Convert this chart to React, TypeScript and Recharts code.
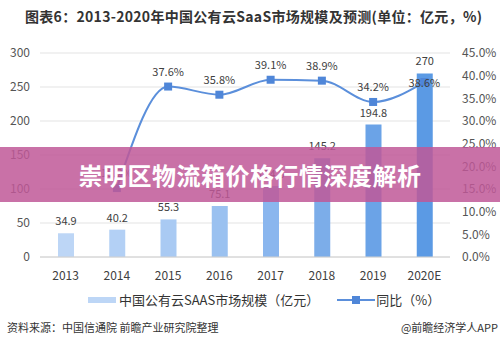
import { Bar, Cell, ComposedChart, CartesianGrid, LabelList, Line, XAxis, YAxis } from "recharts";

const years = ["2013", "2014", "2015", "2016", "2017", "2018", "2019", "2020E"];
const marketSize = [34.9, 40.2, 55.3, 75.1, 104.5, 145.2, 194.8, 270];
const growth: (number | null)[] = [null, 15.2, 37.6, 35.8, 39.1, 38.9, 34.2, 38.6];
const barColors = ["#bdd6f6", "#b3d0f5", "#a9caf3", "#9ac1f0", "#8ab6ee", "#7cade9", "#6ba3e7", "#5b9ae4"];
const leftTicks = [0, 50, 100, 150, 200, 250, 300];
const rightTicks = [0, 5, 10, 15, 20, 25, 30, 35, 40, 45];

const data = years.map((year, i) => ({ year, size: marketSize[i], yoy: growth[i] }));

const font = '"Noto Sans CJK SC", "Noto Sans", sans-serif';

function GrowthLabel(props: any) {
  const { x, y, value, index } = props;
  if (value == null) return null;
  const last = index === years.length - 1;
  return (
    <text x={x} y={last ? y + 5 : y - 11} textAnchor="middle" fontSize={11} fill="#404040" fontFamily={font}>
      {value.toFixed(1)}%
    </text>
  );
}

function Square(props: any) {
  const { cx, cy, payload } = props;
  if (payload.yoy == null || cx == null || cy == null) return <g />;
  return <rect x={cx - 4} y={cy - 4} width={8} height={8} fill="#4f86d8" />;
}

export default function App() {
  return (
    <div style={{ position: "fixed", left: 0, top: 0, width: 500, height: 350, background: "#fff", fontFamily: font, overflow: "hidden" }}>
      <div style={{ position: "absolute", left: 25, top: 6, fontSize: 14, fontWeight: 700, color: "#333", whiteSpace: "nowrap", letterSpacing: 0.3 }}>
        图表6：2013-2020年中国公有云SaaS市场规模及预测(单位：亿元，%)
      </div>
      <div style={{ position: "absolute", left: 0, top: 0 }}>
        <ComposedChart width={500} height={290} data={data} margin={{ top: 53, right: 0, bottom: 3, left: 0 }} barSize={16}>
          <CartesianGrid stroke="#e3e3e3" vertical={false} yAxisId="left" />
          <XAxis dataKey="year" tickLine={false} axisLine={{ stroke: "#d0d0d0" }} tick={{ fontSize: 12, fill: "#404040", fontFamily: font }} height={30} tickMargin={8} />
          <YAxis yAxisId="left" domain={[0, 300]} ticks={leftTicks} tickLine={false} axisLine={false} width={40} tickMargin={4} tick={{ fontSize: 12, fill: "#555", fontFamily: font }} />
          <YAxis yAxisId="right" orientation="right" domain={[0, 45]} ticks={rightTicks} tickLine={false} axisLine={false} width={50} tickMargin={6} tickFormatter={(v) => `${v.toFixed(1)}%`} tick={{ fontSize: 12, fill: "#555", fontFamily: font }} />
          <Bar yAxisId="left" dataKey="size" isAnimationActive={false}>
            {data.map((d, i) => (
              <Cell key={d.year} fill={barColors[i]} />
            ))}
            <LabelList dataKey="size" position="top" offset={8} style={{ fontSize: 11, fill: "#404040", fontFamily: font }} />
          </Bar>
          <Line yAxisId="right" type="monotone" dataKey="yoy" stroke="#5b8fdb" strokeWidth={2} dot={<Square />} activeDot={false} connectNulls isAnimationActive={false}>
            <LabelList dataKey="yoy" content={<GrowthLabel />} />
          </Line>
        </ComposedChart>
      </div>
      <div style={{ position: "absolute", left: 0, top: 147, width: 500, height: 55, background: "rgba(192, 88, 152, 0.85)", display: "flex", alignItems: "center", justifyContent: "center", color: "#fff", fontSize: 24, fontWeight: 700, letterSpacing: 0.5 }}>
        崇明区物流箱价格行情深度解析
      </div>
      <div style={{ position: "absolute", left: 88, top: 290, display: "flex", alignItems: "center", fontSize: 13, color: "#333", whiteSpace: "nowrap" }}>
        <span style={{ display: "inline-block", width: 28, height: 6, background: "#bdd6f6", marginRight: 3 }} />
        <span>中国公有云SAAS市场规模（亿元）</span>
        <svg width={38} height={10} style={{ marginLeft: 18, marginRight: 1 }}>
          <line x1={0} y1={5} x2={38} y2={5} stroke="#5b8fdb" strokeWidth={2} />
          <rect x={15} y={1} width={8} height={8} fill="#4f86d8" />
        </svg>
        <span>同比（%）</span>
      </div>
      <div style={{ position: "absolute", left: 7, top: 319, fontSize: 11, color: "#333", whiteSpace: "nowrap" }}>
        资料来源：中国信通院 前瞻产业研究院整理
      </div>
      <div style={{ position: "absolute", right: 2, top: 319, fontSize: 11, color: "#333", whiteSpace: "nowrap" }}>
        @前瞻经济学人APP
      </div>
    </div>
  );
}
